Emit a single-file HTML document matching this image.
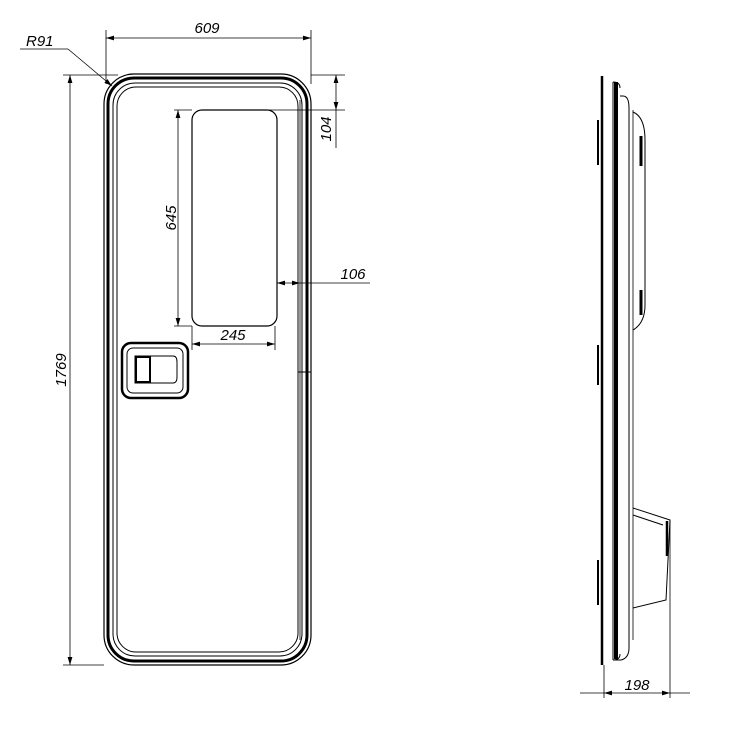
<!DOCTYPE html>
<html><head><style>body{margin:0;background:#fff}svg{display:block}text{font-family:"Liberation Sans",sans-serif;font-style:italic;font-size:15px;fill:#000}</style></head>
<body>
<svg width="740" height="734" viewBox="0 0 740 734" xmlns="http://www.w3.org/2000/svg">
<defs><marker id="a" viewBox="0 0 10 6" refX="10" refY="3" markerWidth="10" markerHeight="6" orient="auto-start-reverse"><path d="M0,0L10,3L0,6Z" fill="#000"/></marker></defs>
<g fill="none" stroke="#000">
<rect x="104" y="74" width="207" height="591" rx="30" stroke-width="1.2"/>
<rect x="108" y="78" width="199" height="583" rx="26" stroke-width="3"/>
<rect x="113" y="83" width="189" height="573" rx="22" stroke-width="1"/>
<rect x="117" y="87" width="181" height="565" rx="19" stroke-width="1"/>
<line x1="300" y1="100" x2="300" y2="640" stroke-width="0.8"/>
<line x1="298" y1="372" x2="311" y2="372" stroke-width="1"/>
<rect x="192" y="110" width="85" height="216" rx="10" stroke-width="1.2"/>
<rect x="122" y="343" width="66" height="55" rx="9" stroke-width="2.5"/>
<rect x="127" y="348" width="56" height="45" rx="6" stroke-width="1"/>
<path d="M135 356h38q4 0 4 6v15q0 6-4 6h-38z" stroke-width="1"/>
<rect x="136" y="357" width="14" height="25" stroke-width="2"/>
<line x1="150" y1="357" x2="150" y2="382" stroke-width="1"/>
<g stroke-width="0.8">
<line x1="106" y1="30" x2="106" y2="84"/><line x1="311" y1="30" x2="311" y2="84"/>
<line x1="106" y1="38" x2="311" y2="38" marker-start="url(#a)" marker-end="url(#a)"/>
<line x1="20" y1="49" x2="68" y2="49"/><line x1="68" y1="49" x2="112" y2="86" marker-end="url(#a)"/>
<line x1="63" y1="75" x2="118" y2="75"/><line x1="63" y1="665" x2="104" y2="665"/>
<line x1="70" y1="75" x2="70" y2="665" marker-start="url(#a)" marker-end="url(#a)"/>
<line x1="311" y1="75" x2="345" y2="75"/><line x1="246" y1="110" x2="345" y2="110"/>
<line x1="336" y1="75" x2="336" y2="110" marker-start="url(#a)" marker-end="url(#a)"/>
<line x1="336" y1="110" x2="336" y2="148"/>
<line x1="174" y1="110" x2="192" y2="110"/><line x1="174" y1="326" x2="192" y2="326"/>
<line x1="178" y1="110" x2="178" y2="326" marker-start="url(#a)" marker-end="url(#a)"/>
<line x1="192" y1="326" x2="192" y2="350"/><line x1="275" y1="326" x2="275" y2="350"/>
<line x1="192" y1="344" x2="275" y2="344" marker-start="url(#a)" marker-end="url(#a)"/>
<line x1="277" y1="283" x2="300" y2="283" marker-start="url(#a)" marker-end="url(#a)"/>
<line x1="300" y1="283" x2="370" y2="283"/>
<line x1="604" y1="665" x2="604" y2="698"/><line x1="670" y1="520" x2="670" y2="698"/>
<line x1="580" y1="693" x2="604" y2="693"/><line x1="604" y1="693" x2="670" y2="693" marker-start="url(#a)" marker-end="url(#a)"/>
<line x1="670" y1="693" x2="690" y2="693"/>
</g>
<line x1="602" y1="76" x2="602" y2="665" stroke-width="2.5"/>
<line x1="613" y1="82" x2="613" y2="660" stroke-width="1"/>
<path d="M616 82v577" stroke-width="4"/>
<path d="M613 82q7 0 7 6M613 660q7 0 7-6" stroke-width="1"/>
<path d="M620 96h3q6 0 6 12v540q0 10-8 12h-8" stroke-width="1"/>
<line x1="633" y1="110" x2="633" y2="640" stroke-width="0.8"/>
<path d="M633 112q12 5 12 28v165q0 18-12 25" stroke-width="1"/>
<path d="M641 136v30M641 290v25" stroke-width="3"/>
<path d="M633 508l37 12-4 80-33 8M633 515l30 10" stroke-width="1"/>
<path d="M667 521v35" stroke-width="2.5"/>
<path d="M598 120v45M598 345v40M598 560v45" stroke-width="2"/>
</g>
<text x="207" y="33" text-anchor="middle">609</text>
<text x="26" y="46">R91</text>
<text transform="translate(66,370) rotate(-90)" text-anchor="middle">1769</text>
<text transform="translate(331,129) rotate(-90)" text-anchor="middle">104</text>
<text transform="translate(176,218) rotate(-90)" text-anchor="middle">645</text>
<text x="233" y="340" text-anchor="middle">245</text>
<text x="353" y="279" text-anchor="middle">106</text>
<text x="637" y="690" text-anchor="middle">198</text>
</svg>
</body></html>
